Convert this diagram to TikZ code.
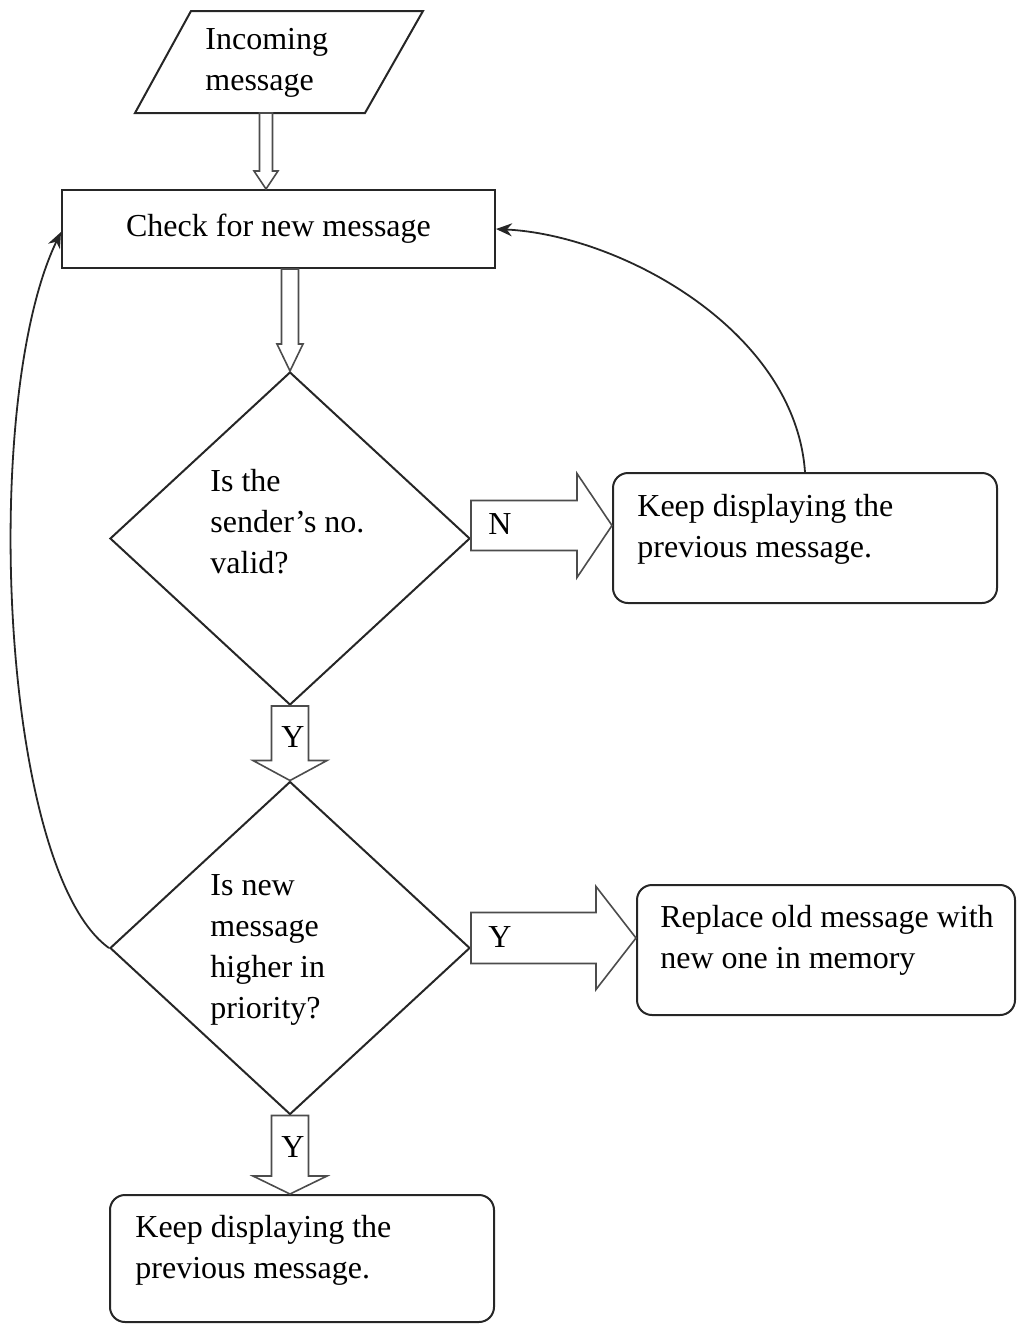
\documentclass[tikz,border=0pt]{standalone}
\usepackage{fontspec}
\setmainfont{Liberation Serif}
\usetikzlibrary{shapes.geometric,calc,arrows.meta}

% hollow block arrow pointing down: start, tip, half shaft, half head, head length
\newcommand{\blockdown}[5]{\draw[blockarrow] ($(#1)+(-#3,0)$) -- ($(#2)+(-#3,-#5)$) -- ($(#2)+(-#4,-#5)$) -- (#2) -- ($(#2)+(#4,-#5)$) -- ($(#2)+(#3,-#5)$) -- ($(#1)+(#3,0)$) -- cycle;}
% hollow block arrow pointing right
\newcommand{\blockright}[5]{\draw[blockarrow] ($(#1)+(0,-#3)$) -- ($(#2)+(-#5,-#3)$) -- ($(#2)+(-#5,-#4)$) -- (#2) -- ($(#2)+(-#5,#4)$) -- ($(#2)+(-#5,#3)$) -- ($(#1)+(0,#3)$) -- cycle;}

\begin{document}
\begin{tikzpicture}[x=0.5pt,y=-0.5pt,
  font=\fontsize{16}{20.5}\selectfont,
  line/.style={draw=black!85, line width=1pt},
  procbox/.style={line, rectangle, inner sep=0},
  roundbox/.style={procbox, rounded corners=7.5pt},
  decision/.style={line, diamond, inner sep=0, minimum width=180pt, minimum height=166.5pt},
  txt/.style={inner sep=0, align=left, anchor=west},
  blockarrow/.style={draw=black!70, line width=0.8pt, fill=white, line join=miter},
  loop/.style={draw=black!85, line width=0.9pt, -{Stealth[length=8pt,width=6.5pt]}}
]
\useasboundingbox (0,0) rectangle (1017,1324);

% input parallelogram
\draw[line] (191,11) -- (423,11) -- (365,113) -- (135,113) -- cycle;
\node[txt] (incoming) at (205,63) {Incoming\\message};
\coordinate (inbase) at (266,113);

% process and decision shapes
\node[procbox, minimum width=216.5pt, minimum height=39pt] (check) at (278.5,229) {Check for new message};
\node[decision] (d1) at (290,538.5) {};
\node[roundbox, minimum width=192pt, minimum height=65pt] (keep1) at (805,538) {};
\node[decision] (d2) at (290,948) {};
\node[roundbox, minimum width=189pt, minimum height=65pt] (replace) at (826,950) {};
\node[roundbox, minimum width=192pt, minimum height=63.5pt] (keep2) at (302,1258.5) {};

% texts
\node[txt] (q1) at (210,522) {Is the\\sender’s no.\\valid?};
\node[txt] (k1t) at (637,529) {Keep displaying the\\previous message.};
\node[txt] (q2) at (210,950) {Is new\\message\\higher in\\priority?};
\node[txt] (rt) at (660,940) {Replace old message with\\new one in memory};
\node[txt] (k2t) at (135,1250) {Keep displaying the\\previous message.};

% block arrows
\coordinate (a1e) at (inbase |- check.north);
\blockdown{inbase}{a1e}{6.5}{12}{18}
\coordinate (a2s) at (check.south -| d1.north);
\blockdown{a2s}{d1.north}{8.5}{13}{27}
\blockdown{d1.south}{d2.north}{18.5}{37}{20}
\coordinate (a3e) at (d2.south |- keep2.north);
\blockdown{d2.south}{a3e}{18.5}{37}{18}
\coordinate (ns) at ($(d1.east)+(0,-13)$);
\coordinate (ne) at (ns -| keep1.west);
\blockright{ns}{ne}{25}{52}{35}
\coordinate (ys) at ($(d2.east)+(0,-10)$);
\coordinate (ye) at (ys -| replace.west);
\blockright{ys}{ye}{25.5}{51.5}{40}

% branch labels
\node (lblN) at (500,524) {N};
\node (lblY1) at (293,737) {Y};
\node (lblY2) at (500,937) {Y};
\node (lblY3) at (293,1147) {Y};

% return paths
\draw[loop] (keep1.north) .. controls (795,330) and (620,235) .. (check.east);
\coordinate (cw) at ($(check.west)+(0,3)$);
\draw[loop] (d2.west) .. controls (0,870) and (-20,400) .. (cw);
\end{tikzpicture}
\end{document}
